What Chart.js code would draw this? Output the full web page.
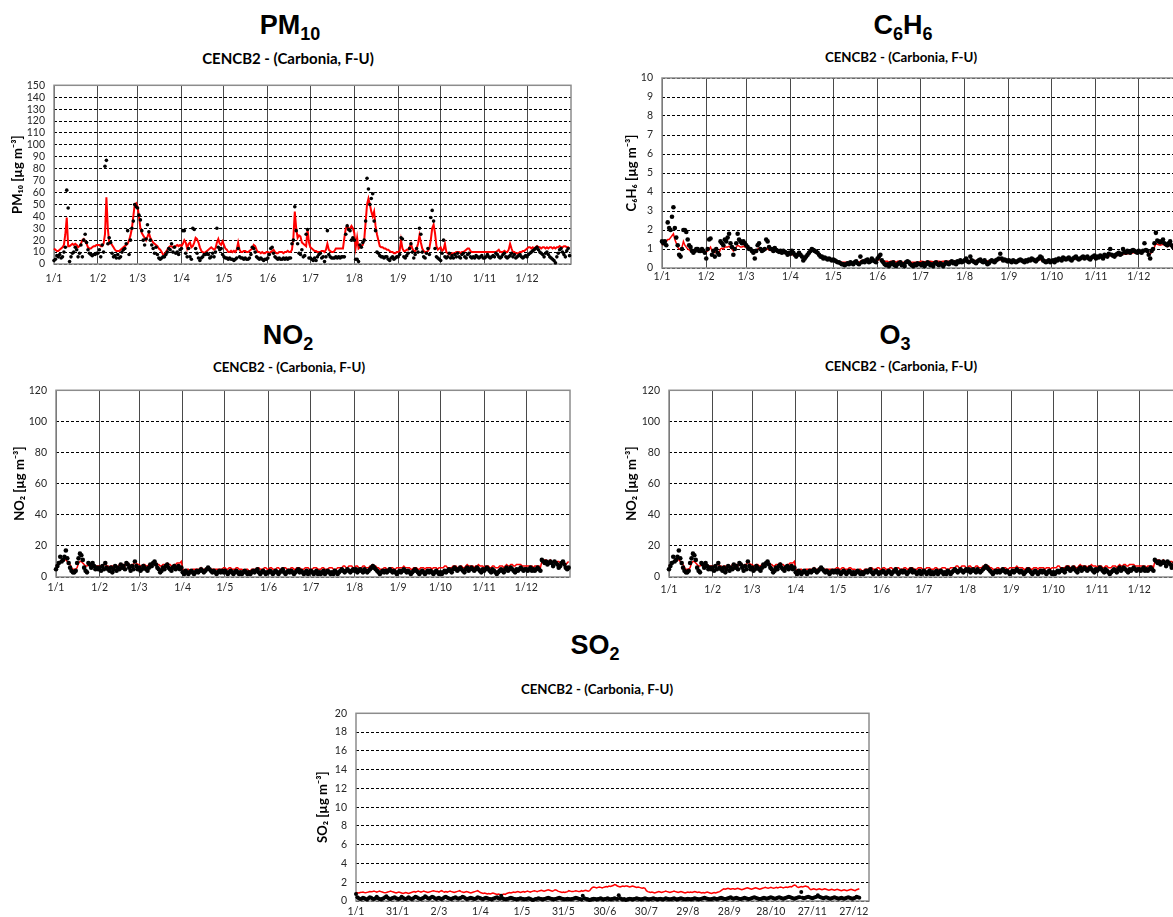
<!DOCTYPE html>
<html lang="it">
<head>
<meta charset="UTF-8">
<title>CENCB2 - (Carbonia, F-U)</title>
<script src="https://cdn.jsdelivr.net/npm/chart.js"></script>
<style>
    body {
        margin: 0;
        width: 1173px;
        height: 917px;
        overflow: hidden;
        position: relative;
        background: #fff;
    }
    canvas { position: absolute; }
    .ttl {
        position: absolute;
        width: 300px;
        text-align: center;
        font-family: "Liberation Sans", Arial, sans-serif;
        font-weight: bold;
        font-size: 27px;
        line-height: 27px;
        color: #000;
    }
    .ttl span { font-size: 18px; position: relative; top: 6px; }
    .sub {
        position: absolute;
        width: 300px;
        text-align: center;
        font-family: Lato, sans-serif;
        font-weight: bold;
        font-size: 13.3px;
        line-height: 13px;
        color: #000;
    }
</style>
</head>
<body>

<div class="ttl" style="left:140px;top:12px">PM<span>10</span></div>
<div class="sub" style="left:138px;top:51px;font-size:15px;line-height:14px">CENCB2 - (Carbonia, F-U)</div>
<canvas id="pm10" width="590" height="230" style="left:0;top:70px"></canvas>

<div class="ttl" style="left:753px;top:12px">C<span>6</span>H<span>6</span></div>
<div class="sub" style="left:751px;top:51px">CENCB2 - (Carbonia, F-U)</div>
<canvas id="c6h6" width="600" height="240" style="left:600px;top:60px"></canvas>

<div class="ttl" style="left:138px;top:322px">NO<span>2</span></div>
<div class="sub" style="left:139px;top:361px">CENCB2 - (Carbonia, F-U)</div>
<canvas id="no2" width="590" height="230" style="left:0;top:375px"></canvas>

<div class="ttl" style="left:745px;top:322px">O<span>3</span></div>
<div class="sub" style="left:751px;top:360px">CENCB2 - (Carbonia, F-U)</div>
<canvas id="o3" width="600" height="230" style="left:600px;top:375px"></canvas>

<div class="ttl" style="left:445px;top:632px">SO<span>2</span></div>
<div class="sub" style="left:447px;top:683px">CENCB2 - (Carbonia, F-U)</div>
<canvas id="so2" width="600" height="240" style="left:290px;top:698px"></canvas>

<script>
// x axis: day of year (0 = 1 January)
const monthStarts = [0, 31, 59, 90, 120, 151, 181, 212, 243, 273, 304, 334];
const monthLabels = ['1/1', '1/2', '1/3', '1/4', '1/5', '1/6', '1/7', '1/8', '1/9', '1/10', '1/11', '1/12'];
const so2TickDays = [0, 30, 60, 90, 120, 150, 180, 210, 240, 270, 300, 330, 360];
const so2TickLabels = ['1/1', '31/1', '2/3', '1/4', '1/5', '31/5', '30/6', '30/7', '29/8', '28/9', '28/10', '27/11', '27/12'];

// PM10 daily measured (dots) and modelled (red line), one row per month
const pm10Obs = [
    3,4,7,6,8,5,6,10,14,62,47,2,6,9,10,14,12,6,9,16,6,20,25,18,12,9,8,7,8,8,9,
    9,12,6,16,10,82,87,17,22,18,9,6,7,5,8,5,6,10,12,13,17,28,8,20,30,36,50,48,
    47,41,37,28,20,16,21,33,27,20,16,13,9,14,8,5,4,5,6,6,8,10,13,12,17,10,14,9,10,8,12,
    13,28,28,9,6,13,6,4,30,29,13,9,5,3,5,6,8,8,9,8,5,6,9,6,10,30,14,12,13,8,
    6,5,5,4,5,4,4,3,4,5,13,6,5,5,4,5,4,4,5,8,14,13,10,6,5,4,5,4,3,4,4,
    5,8,13,14,9,6,5,4,5,4,4,5,4,5,4,5,5,17,20,48,28,17,9,8,12,6,7,25,29,5,
    5,4,3,5,3,6,8,9,5,6,2,6,28,8,6,5,5,5,6,5,6,5,6,6,6,25,32,29,28,20,22,
    20,4,4,2,16,14,18,20,36,72,63,50,55,59,36,28,10,9,7,6,6,5,6,6,4,3,5,6,4,5,6,
    6,8,22,21,6,5,7,9,13,17,10,5,8,13,10,30,25,10,6,5,9,13,8,39,45,36,13,6,5,4,
    3,9,20,6,5,6,9,5,7,5,8,6,9,6,5,8,9,6,5,8,9,6,5,6,5,7,6,5,6,7,5,
    5,6,8,6,5,6,7,6,9,8,6,5,6,8,9,6,5,6,7,9,6,8,5,6,7,8,6,5,6,7,
    6,8,9,10,11,12,13,14,12,10,9,8,6,9,10,8,6,5,4,3,1,6,9,12,13,10,8,6,11,13,7
];
const pm10Model = [
    13,12,11,11,12,13,14,16,25,39,15,15,16,17,16,17,16,14,15,17,20,21,19,17,14,13,13,14,15,15,16,
    16,16,15,15,17,25,56,30,17,18,16,14,12,11,11,11,12,13,14,15,16,17,20,24,30,40,50,51,
    48,40,30,26,24,22,20,23,26,22,20,18,17,16,15,13,12,10,8,8,10,12,14,15,15,14,15,15,16,15,16,
    15,17,20,18,13,17,18,14,15,18,22,21,18,14,11,10,9,10,11,12,13,14,13,12,13,18,21,17,16,19,
    16,13,12,10,10,11,10,11,10,12,18,12,10,10,11,11,10,10,11,12,13,16,15,12,10,10,9,10,9,9,10,
    10,9,10,11,12,10,9,9,10,10,10,9,10,10,11,10,10,12,22,44,30,22,24,23,18,17,16,15,29,18,
    14,13,12,11,11,10,10,10,11,11,10,12,17,12,11,10,10,11,13,13,13,13,13,13,22,30,32,29,30,32,30,
    26,14,22,13,14,15,16,20,35,50,55,50,44,40,44,32,25,20,15,14,14,13,13,12,12,11,10,10,9,9,10,
    10,11,20,13,11,11,12,12,14,17,13,11,11,13,17,24,18,13,11,10,10,11,13,20,30,33,26,15,12,13,
    14,11,12,17,10,9,8,8,9,9,9,10,10,10,9,10,10,11,12,13,13,11,10,10,10,10,10,10,10,10,10,
    10,10,10,10,10,10,10,10,10,11,12,10,10,10,11,10,10,12,17,13,10,10,9,9,9,10,10,11,11,12,
    13,14,14,13,14,13,14,15,14,14,13,14,14,13,14,13,14,14,13,14,13,14,14,15,14,14,15,15,14,14,13
];

// C6H6
const c6h6Obs = [
    1.4,1.3,1.4,1.2,2.4,2.1,2.0,2.7,3.2,2.1,1.6,1.2,0.7,0.6,1.0,2.0,2.0,1.9,1.5,1.2,1.1,0.9,0.8,0.9,1.0,1.0,0.9,0.9,1.0,0.9,0.8,
    0.5,1.0,1.5,1.55,0.7,0.9,0.6,1.0,0.8,0.7,1.4,1.3,1.2,1.5,1.4,1.6,1.8,1.3,1.1,0.7,1.0,1.3,1.8,1.5,1.4,1.3,1.4,1.3,
    1.2,1.1,1.0,1.0,0.9,0.8,0.5,0.9,1.2,1.3,1.0,0.9,0.95,1.0,1.5,1.4,1.1,1.0,1.0,0.9,1.05,0.95,0.9,0.85,0.9,0.8,0.9,0.85,0.8,0.7,0.8,
    0.75,0.9,0.8,0.7,0.6,0.7,0.8,0.7,0.6,0.4,0.5,0.6,0.7,0.8,0.9,1.0,0.95,0.9,0.85,0.8,0.7,0.6,0.6,0.5,0.55,0.5,0.45,0.5,0.45,0.4,
    0.45,0.4,0.35,0.3,0.3,0.25,0.2,0.2,0.15,0.2,0.25,0.2,0.3,0.25,0.2,0.3,0.35,0.25,0.2,0.6,0.3,0.35,0.3,0.4,0.45,0.3,0.35,0.5,0.4,0.35,0.3,
    0.5,0.6,0.7,0.4,0.3,0.2,0.15,0.2,0.1,0.25,0.2,0.3,0.15,0.1,0.2,0.25,0.3,0.15,0.2,0.1,0.3,0.35,0.3,0.2,0.15,0.1,0.2,0.15,0.25,0.2,
    0.2,0.15,0.25,0.1,0.2,0.3,0.25,0.15,0.2,0.1,0.25,0.3,0.2,0.15,0.25,0.2,0.1,0.2,0.3,0.25,0.2,0.3,0.35,0.25,0.3,0.2,0.35,0.3,0.4,0.3,0.35,
    0.4,0.5,0.35,0.3,0.6,0.4,0.35,0.3,0.25,0.35,0.4,0.45,0.35,0.3,0.4,0.3,0.2,0.25,0.35,0.4,0.35,0.3,0.4,0.45,0.5,0.75,0.5,0.4,0.45,0.4,0.35,
    0.4,0.35,0.3,0.4,0.35,0.3,0.35,0.4,0.45,0.4,0.35,0.3,0.4,0.35,0.45,0.4,0.5,0.45,0.4,0.35,0.45,0.5,0.6,0.55,0.4,0.35,0.3,0.35,0.4,0.3,
    0.35,0.4,0.3,0.45,0.4,0.5,0.45,0.4,0.55,0.5,0.45,0.5,0.55,0.45,0.4,0.5,0.55,0.6,0.5,0.45,0.5,0.55,0.6,0.5,0.55,0.6,0.5,0.45,0.55,0.6,0.65,
    0.5,0.6,0.55,0.65,0.6,0.5,0.7,0.65,0.6,0.75,1.0,0.7,0.65,0.6,0.7,0.75,0.8,0.7,0.75,1.0,0.85,0.8,0.9,0.85,0.8,0.9,0.95,0.9,0.85,0.8,
    0.9,0.85,0.8,0.9,1.3,0.95,0.9,0.7,0.5,0.9,1.0,1.3,1.85,1.45,1.4,1.35,1.4,1.5,1.3,1.25,1.2,1.3,1.4,1.2,1.1,1.15,1.2,1.1,1.05,1.1,1.1
];
const c6h6Model = [
    1.2,1.3,1.4,1.4,1.5,1.5,1.6,1.7,1.8,1.5,1.3,1.1,1.0,1.0,1.1,1.4,1.2,1.1,1.0,0.95,0.9,0.9,0.85,0.9,0.95,0.9,0.9,0.95,0.9,0.9,0.85,
    0.85,0.9,1.0,1.1,0.9,0.85,0.8,0.9,0.85,0.8,1.0,1.05,1.0,1.1,1.1,1.1,1.15,1.05,1.0,0.9,1.0,1.1,1.2,1.15,1.1,1.1,1.15,1.1,
    1.1,1.05,1.0,0.95,0.9,0.85,0.8,0.85,1.0,1.05,0.95,0.9,0.9,0.95,1.0,1.0,0.95,0.95,0.9,0.9,0.9,0.9,0.85,0.85,0.8,0.8,0.8,0.8,0.75,0.75,0.75,
    0.75,0.7,0.7,0.65,0.65,0.65,0.7,0.65,0.6,0.55,0.55,0.6,0.7,0.75,0.85,0.95,0.9,0.85,0.8,0.75,0.7,0.65,0.6,0.55,0.5,0.5,0.45,0.45,0.45,0.4,
    0.4,0.4,0.35,0.35,0.3,0.3,0.3,0.3,0.3,0.3,0.3,0.3,0.3,0.3,0.3,0.3,0.3,0.3,0.3,0.35,0.4,0.35,0.35,0.35,0.4,0.35,0.35,0.4,0.4,0.35,0.35,
    0.4,0.45,0.45,0.4,0.35,0.35,0.35,0.35,0.3,0.35,0.35,0.35,0.35,0.3,0.35,0.35,0.35,0.3,0.3,0.3,0.35,0.35,0.35,0.3,0.3,0.3,0.3,0.3,0.3,0.3,
    0.35,0.35,0.34,0.33,0.33,0.34,0.35,0.35,0.34,0.33,0.34,0.35,0.36,0.35,0.34,0.34,0.35,0.36,0.36,0.35,0.35,0.36,0.37,0.36,0.35,0.36,0.37,0.38,0.38,0.37,0.37,
    0.38,0.4,0.39,0.38,0.4,0.41,0.4,0.39,0.38,0.38,0.39,0.4,0.41,0.4,0.39,0.38,0.37,0.37,0.38,0.39,0.4,0.39,0.38,0.4,0.42,0.45,0.43,0.41,0.4,0.4,0.39,
    0.39,0.38,0.38,0.39,0.39,0.38,0.38,0.39,0.4,0.4,0.39,0.38,0.39,0.4,0.41,0.41,0.42,0.42,0.41,0.4,0.41,0.42,0.44,0.45,0.43,0.41,0.4,0.4,0.41,0.41,
    0.41,0.42,0.41,0.42,0.43,0.44,0.44,0.43,0.45,0.46,0.45,0.46,0.47,0.46,0.45,0.46,0.47,0.49,0.48,0.47,0.48,0.5,0.51,0.5,0.51,0.52,0.51,0.5,0.52,0.54,0.55,
    0.54,0.55,0.56,0.57,0.57,0.56,0.58,0.6,0.6,0.62,0.68,0.64,0.62,0.62,0.64,0.66,0.68,0.67,0.68,0.75,0.74,0.72,0.75,0.76,0.76,0.78,0.8,0.8,0.79,0.78,
    0.8,0.8,0.78,0.82,0.95,0.9,0.86,0.8,0.75,0.82,0.92,1.1,1.3,1.25,1.22,1.2,1.22,1.25,1.2,1.15,1.12,1.15,1.2,1.12,1.05,1.05,1.08,1.05,1.0,1.02,1.05
];

// NO2 (the O3 panel plots the same series)
const no2Obs = [
    5,7,9,13,10,11,13,17,12,9,6,4,3,3,4,9,12,15,14,11,6,4,3,9,8,6,9,7,5,6,5,
    6,4,7,5,9,6,5,4,6,3,5,7,4,6,5,8,6,7,5,9,8,6,4,7,5,10,7,5,
    6,4,5,7,6,5,4,6,8,7,9,10,8,6,5,3,4,6,5,7,8,6,5,4,6,7,5,6,7,5,6,
    3,2,4,3,2,3,4,3,2,3,4,3,4,5,4,3,4,5,6,5,4,3,4,3,2,3,4,3,4,3,
    4,3,2,3,4,3,2,3,4,3,2,3,2,3,4,3,2,3,2,3,4,3,4,5,3,2,3,4,3,2,3,
    3,4,3,2,3,4,3,2,3,4,5,3,2,3,4,3,4,3,2,3,4,5,3,4,3,2,3,4,2,3,
    4,3,2,3,4,2,3,2,3,4,2,3,4,3,2,3,2,4,3,2,3,4,5,4,3,4,5,4,3,4,5,
    4,5,3,4,5,4,3,5,4,3,4,5,6,7,6,5,4,3,2,3,4,3,4,3,4,5,4,3,4,3,2,
    3,4,3,4,5,4,3,4,3,2,3,4,5,4,3,2,3,4,3,2,3,4,3,4,3,2,3,4,3,2,
    3,2,3,4,3,4,5,4,3,5,6,5,4,5,6,5,4,3,5,6,4,5,6,5,4,5,6,5,4,3,5,
    4,5,6,5,4,3,5,4,3,2,3,4,5,4,3,5,6,4,5,6,5,4,3,5,4,5,6,5,4,5,
    5,4,5,6,4,5,4,5,6,5,4,11,10,9,10,8,9,10,9,7,10,9,8,6,7,9,10,8,6,5,6
];
const no2Model = [
    7,8,9,10,11,11,12,11,10,9,8,6,5,5,5,6,9,10,10,9,8,7,7,8,7,7,8,8,7,7,7,
    7,7,6,8,8,7,7,6,7,7,6,7,7,6,8,7,8,8,7,8,9,8,7,8,8,10,9,8,
    8,7,7,8,8,7,7,8,8,9,9,10,9,8,8,7,7,8,8,8,9,8,8,7,7,8,8,9,9,9,10,
    5,4,4,5,5,4,4,5,5,5,5,5,5,6,5,5,5,6,6,5,5,5,5,5,5,5,5,5,5,6,
    6,5,5,6,6,5,5,5,6,6,5,5,5,4,4,5,5,4,4,5,5,5,5,6,6,5,5,5,6,6,5,
    5,6,6,5,5,5,6,6,5,5,6,6,6,5,5,5,6,6,5,5,6,6,6,5,5,5,6,6,6,5,
    5,5,6,6,6,5,5,5,6,6,5,5,5,6,6,6,5,5,5,6,6,6,6,7,7,6,6,7,7,7,6,
    6,7,7,6,6,6,7,7,6,6,6,7,7,8,7,7,6,6,5,5,5,6,6,5,5,6,6,6,5,5,6,
    6,6,6,6,7,6,6,6,6,5,5,6,6,6,5,5,6,6,6,5,6,6,6,6,5,6,6,6,5,6,
    6,6,6,7,7,6,6,6,6,7,7,7,6,6,7,7,6,6,7,8,7,7,7,7,6,7,7,8,7,7,7,
    6,7,7,7,6,6,7,7,6,6,6,7,7,7,6,7,8,7,7,8,8,7,7,8,8,8,8,7,7,7,
    7,7,7,7,7,6,7,7,7,7,6,10,10,11,11,10,10,11,10,10,10,9,10,10,9,9,10,9,8,9,10
];

// SO2
const so2Obs = [
    0.75,0.4,0.3,0.2,0.25,0.35,0.3,0.2,0.15,0.3,0.4,0.35,0.25,0.2,0.3,0.45,0.3,0.2,0.15,0.25,0.3,0.4,0.5,0.35,0.25,0.2,0.3,0.35,0.4,0.3,0.25,
    0.2,0.3,0.45,0.35,0.25,0.2,0.3,0.4,0.3,0.2,0.25,0.35,0.45,0.4,0.3,0.25,0.2,0.3,0.35,0.5,0.4,0.3,0.25,0.35,0.45,0.4,0.3,0.2,
    0.3,0.35,0.25,0.2,0.3,0.4,0.45,0.35,0.3,0.25,0.2,0.3,0.35,0.4,0.3,0.25,0.3,0.35,0.45,0.4,0.3,0.2,0.25,0.3,0.35,0.3,0.25,0.2,0.3,0.4,0.35,
    0.3,0.25,0.2,0.3,0.35,0.3,0.25,0.2,0.15,0.25,0.3,0.35,0.4,0.3,0.25,0.55,0.3,0.2,0.15,0.2,0.25,0.3,0.35,0.3,0.25,0.2,0.15,0.2,0.25,0.3,
    0.25,0.2,0.15,0.2,0.25,0.3,0.2,0.15,0.1,0.15,0.2,0.25,0.3,0.25,0.2,0.15,0.2,0.25,0.3,0.35,0.3,0.25,0.2,0.15,0.2,0.25,0.3,0.35,0.3,0.25,0.2,
    0.15,0.2,0.25,0.2,0.15,0.2,0.25,0.3,0.35,0.3,0.25,0.2,0.15,0.55,0.3,0.25,0.2,0.15,0.1,0.15,0.2,0.25,0.2,0.15,0.2,0.25,0.3,0.2,0.15,0.2,
    0.25,0.3,0.2,0.15,0.2,0.25,0.3,0.25,0.2,0.6,0.3,0.2,0.15,0.2,0.1,0.15,0.2,0.25,0.2,0.15,0.2,0.25,0.3,0.25,0.2,0.15,0.2,0.25,0.3,0.25,0.2,
    0.15,0.2,0.25,0.3,0.25,0.2,0.15,0.2,0.25,0.2,0.15,0.2,0.3,0.25,0.2,0.15,0.2,0.25,0.3,0.2,0.15,0.2,0.25,0.3,0.25,0.2,0.15,0.2,0.25,0.2,0.15,
    0.2,0.25,0.3,0.25,0.2,0.15,0.2,0.25,0.3,0.35,0.3,0.25,0.2,0.15,0.2,0.25,0.3,0.25,0.2,0.25,0.3,0.35,0.3,0.25,0.2,0.25,0.3,0.35,0.4,0.3,
    0.25,0.3,0.35,0.3,0.25,0.2,0.25,0.3,0.35,0.3,0.25,0.2,0.25,0.3,0.35,0.4,0.35,0.3,0.25,0.2,0.25,0.3,0.35,0.3,0.25,0.3,0.35,0.4,0.35,0.3,0.25,
    0.3,0.35,0.4,0.35,0.3,0.25,0.3,0.35,0.4,0.45,0.4,0.35,0.3,0.25,0.3,0.35,0.4,0.4,0.95,0.35,0.3,0.35,0.4,0.45,0.4,0.35,0.3,0.35,0.4,0.45,
    0.6,0.45,0.4,0.35,0.3,0.35,0.4,0.35,0.3,0.25,0.3,0.35,0.4,0.35,0.3,0.25,0.3,0.35,0.3,0.25,0.3,0.35,0.4,0.35,0.3,0.25,0.3,0.35,0.45,0.4,0.35
];
const so2Model = [
    0.9,0.88,0.85,0.9,0.92,0.95,0.9,0.88,0.92,0.95,1.0,0.98,1.0,1.05,1.0,0.95,1.0,1.05,1.0,0.95,0.9,0.88,0.9,0.95,1.0,1.05,1.0,0.95,0.9,0.85,0.9,
    0.95,0.9,0.85,0.8,0.85,0.9,0.85,0.8,0.85,0.9,0.95,1.0,0.95,1.0,1.05,1.0,0.95,1.0,1.05,1.0,0.95,0.9,0.95,1.0,1.05,1.1,1.05,1.0,
    1.0,0.95,1.05,1.1,1.0,0.95,1.0,0.95,1.0,1.05,1.0,0.95,0.9,0.95,1.0,1.05,1.1,1.0,0.95,0.9,0.95,1.0,0.95,0.9,0.85,0.9,0.95,1.0,1.05,1.1,1.0,
    0.9,0.85,0.8,0.85,0.8,0.75,0.8,0.75,0.8,0.85,0.8,0.75,0.7,0.75,0.7,0.65,0.7,0.75,0.7,0.8,0.85,0.9,0.85,0.9,0.95,0.9,0.95,1.0,0.95,0.9,
    0.95,1.0,0.95,1.0,1.05,1.0,0.95,1.0,1.05,1.1,1.05,1.0,1.05,1.1,1.15,1.1,1.05,1.1,1.15,1.2,1.15,1.1,1.05,1.1,1.2,1.15,1.05,1.0,0.95,0.9,0.95,
    0.9,0.95,1.0,1.1,1.05,1.0,1.0,1.05,1.1,1.05,1.0,1.0,1.1,1.05,1.1,1.15,1.1,1.05,1.1,1.3,1.45,1.5,1.45,1.4,1.45,1.5,1.45,1.4,1.45,1.5,
    1.55,1.5,1.6,1.55,1.6,1.65,1.75,1.7,1.6,1.55,1.5,1.55,1.6,1.55,1.6,1.6,1.55,1.5,1.55,1.6,1.55,1.5,1.45,1.5,1.45,1.4,1.35,1.4,1.35,1.1,1.0,
    0.95,0.9,0.95,0.9,0.85,0.9,0.95,1.0,0.95,0.9,0.95,1.0,1.05,1.0,0.95,0.9,0.95,1.0,1.05,1.0,0.95,0.9,0.95,1.0,0.95,0.9,0.85,0.9,0.95,0.9,0.95,
    0.9,0.95,1.0,0.95,0.9,0.95,0.9,0.85,0.9,0.85,0.9,0.95,0.9,0.85,0.8,0.85,0.9,0.85,0.9,0.95,1.0,1.1,1.2,1.3,1.25,1.3,1.35,1.3,1.25,1.3,
    1.3,1.25,1.3,1.35,1.3,1.25,1.2,1.25,1.3,1.35,1.4,1.35,1.3,1.25,1.3,1.35,1.4,1.35,1.3,1.25,1.3,1.35,1.4,1.45,1.4,1.35,1.4,1.45,1.4,1.35,1.4,
    1.45,1.4,1.45,1.5,1.45,1.4,1.45,1.5,1.45,1.5,1.55,1.5,1.6,1.7,1.65,1.5,1.45,1.5,1.55,1.5,1.55,1.6,1.55,1.5,1.3,1.2,1.25,1.3,1.25,1.2,
    1.25,1.3,1.25,1.2,1.25,1.3,1.25,1.2,1.15,1.2,1.25,1.2,1.15,1.2,1.25,1.2,1.15,1.1,1.15,1.2,1.15,1.1,1.15,1.2,1.25,1.2,1.15,1.1,1.2,1.25,1.3
];

// gray box round the plot area
const frame = {
    id: 'frame',
    beforeDatasetsDraw(chart) {
        const { ctx, chartArea: a } = chart;
        ctx.save();
        ctx.strokeStyle = '#8c8c8c';
        ctx.lineWidth = 1.5;
        ctx.strokeRect(a.left, a.top, a.right - a.left, a.bottom - a.top);
        ctx.restore();
    }
};

function points(arr) {
    return arr.map((v, i) => ({ x: i, y: v }));
}

// p: plot box inside the canvas, plus axis settings for one panel
function drawPanel(id, p) {
    const cv = document.getElementById(id);
    const xAxisH = 22;
    const tickFont = { family: 'Lato', size: 10.5 };
    return new Chart(cv, {
        type: 'scatter',
        data: {
            datasets: [{
                data: points(p.obs),
                pointRadius: p.dotR,
                pointBackgroundColor: '#000',
                pointBorderWidth: 0,
                showLine: false,
                clip: false
            }, {
                data: points(p.model),
                showLine: true,
                borderColor: '#ff0000',
                borderWidth: p.lineW,
                pointRadius: 0,
                clip: false
            }]
        },
        options: {
            responsive: false,
            animation: false,
            devicePixelRatio: 1,
            layout: {
                padding: {
                    left: 0,
                    top: p.top,
                    right: cv.width - p.right,
                    bottom: cv.height - p.bottom - xAxisH
                }
            },
            plugins: { legend: { display: false }, tooltip: { enabled: false } },
            scales: {
                x: {
                    type: 'linear',
                    min: 0,
                    max: p.xMax,
                    afterBuildTicks: s => { s.ticks = p.tickDays.map(v => ({ value: v })); },
                    afterFit: s => { s.height = xAxisH; },
                    ticks: {
                        autoSkip: false,
                        maxRotation: 0,
                        padding: p.xPad,
                        color: '#262626',
                        font: tickFont,
                        callback: (v, i) => p.tickLabels[i]
                    },
                    grid: { display: p.monthGrid, color: '#4a4a4a', lineWidth: 1, drawTicks: false },
                    border: { display: false }
                },
                y: {
                    min: 0,
                    max: p.yMax,
                    afterFit: s => { s.width = p.left; },
                    ticks: {
                        stepSize: p.yStep,
                        autoSkip: false,
                        padding: 9,
                        color: '#262626',
                        font: tickFont
                    },
                    grid: { color: '#000', lineWidth: 1, drawTicks: false },
                    border: { display: false, dash: [3, 2] },
                    title: {
                        display: true,
                        text: p.yTitle,
                        color: '#000',
                        font: { family: 'Lato', weight: 'bold', size: 13 },
                        padding: { top: p.titlePad, bottom: 0 }
                    }
                }
            }
        },
        plugins: [frame]
    });
}

drawPanel('pm10', {
    obs: pm10Obs, model: pm10Model, dotR: 1.8, lineW: 2,
    left: 54, right: 571, top: 10, bottom: 194,
    xMax: 365, tickDays: monthStarts, tickLabels: monthLabels, monthGrid: true, xPad: 8,
    yMax: 150, yStep: 10, yTitle: 'PM\u2081\u2080 [\u00b5g m\u207b\u00b3]', titlePad: 10
});

drawPanel('c6h6', {
    obs: c6h6Obs, model: c6h6Model, dotR: 2.3, lineW: 1.5,
    left: 62, right: 583, top: 18, bottom: 208,
    xMax: 365, tickDays: monthStarts, tickLabels: monthLabels, monthGrid: true, xPad: 2,
    yMax: 10, yStep: 1, yTitle: 'C\u2086H\u2086 [\u00b5g m\u207b\u00b3]', titlePad: 24
});

drawPanel('no2', {
    obs: no2Obs, model: no2Model, dotR: 2.3, lineW: 1.5,
    left: 56, right: 570, top: 13, bottom: 202,
    xMax: 365, tickDays: monthStarts, tickLabels: monthLabels, monthGrid: true, xPad: 4,
    yMax: 120, yStep: 20, yTitle: 'NO\u2082 [\u00b5g m\u207b\u00b3]', titlePad: 12
});

drawPanel('o3', {
    obs: no2Obs, model: no2Model, dotR: 2.3, lineW: 1.5,
    left: 69, right: 583, top: 13, bottom: 202,
    xMax: 365, tickDays: monthStarts, tickLabels: monthLabels, monthGrid: true, xPad: 6,
    yMax: 120, yStep: 20, yTitle: 'NO\u2082 [\u00b5g m\u207b\u00b3]', titlePad: 24
});

drawPanel('so2', {
    obs: so2Obs, model: so2Model, dotR: 2, lineW: 1.5,
    left: 66, right: 579, top: 13, bottom: 203,
    xMax: 371, tickDays: so2TickDays, tickLabels: so2TickLabels, monthGrid: false, xPad: 4,
    yMax: 20, yStep: 2, yTitle: 'SO\u2082 [\u00b5g m\u207b\u00b3]', titlePad: 25
});
</script>
</body>
</html>
